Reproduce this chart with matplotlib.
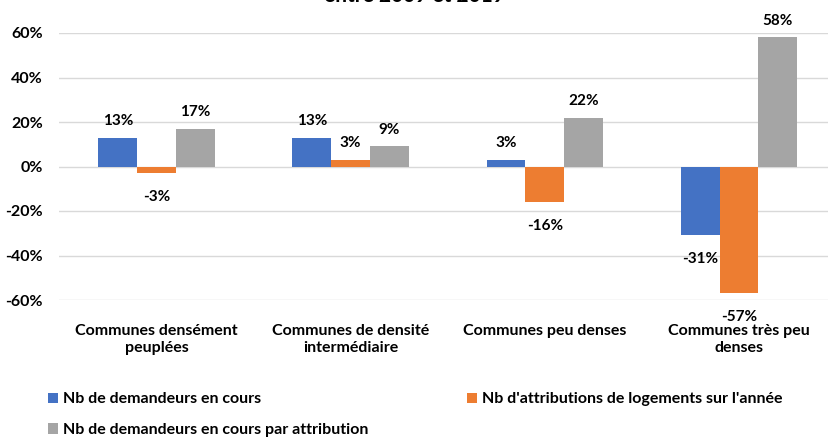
import matplotlib
matplotlib.use("Agg")
import matplotlib.pyplot as plt
import numpy as np

plt.rcParams['font.family'] = ['Lato', 'DejaVu Sans']
plt.rcParams['font.weight'] = 'bold'

categories = ["Communes densément\npeuplées", "Communes de densité\nintermédiaire",
              "Communes peu denses", "Communes très peu\ndenses"]
series_names = ["Nb de demandeurs en cours",
                "Nb d'attributions de logements sur l'année",
                "Nb de demandeurs en cours par attribution"]
demandeurs = [13, 13, 3, -31]
attributions = [-3, 3, -16, -57]
par_attribution = [17, 9, 22, 58]
colors = ["#4472C4", "#ED7D31", "#A5A5A5"]

W, H = 829, 437
fig = plt.figure(figsize=(W / 100, H / 100), dpi=100)
ax = fig.add_axes([59.5 / W, (H - 300) / H, 776.5 / W, 267 / H])

x = np.arange(len(categories))
width = 0.2
bars = []
for i, (vals, name, col) in enumerate(zip([demandeurs, attributions, par_attribution],
                                           series_names, colors)):
    pos = x + (i - 1) * width
    bars.append(ax.bar(pos, vals, width, color=col, label=name, zorder=3))
    for p, v in zip(pos, vals):
        ax.annotate(f"{v}%", (p, v), xytext=(0, 7 if v >= 0 else -12),
                    textcoords="offset points", ha="center",
                    va="bottom" if v >= 0 else "top", fontsize=11, fontweight="bold")

ax.set_xlim(-0.5, 3.5)
ax.set_ylim(-60, 60)
ax.set_yticks(range(-60, 61, 20))
ax.set_yticklabels([f"{t}%" for t in range(-60, 61, 20)], fontsize=11.5, fontweight="bold")
ax.set_xticks(x)
ax.set_xticklabels(categories, fontsize=11.5, fontweight="bold", linespacing=1.35)
ax.tick_params(axis="both", length=0)
ax.tick_params(axis="x", pad=17)
ax.tick_params(axis="y", pad=12)
ax.grid(axis="y", color="#D9D9D9", linewidth=1, zorder=0)
for s in ax.spines.values():
    s.set_visible(False)

# title is cut off at the top in the original
fig.text(0.5, 1 - 1.5 / H, "entre 2009 et 2019", ha="center", va="baseline",
         fontsize=15, fontweight="bold")

# order so that rows read blue, orange / gray
handles = [bars[0], bars[2], bars[1]]
labels = [series_names[0], series_names[2], series_names[1]]
fig.legend(handles, labels, loc="upper left", bbox_to_anchor=(34 / W, 1 - 378 / H), ncol=2,
           frameon=False, fontsize=11.5, handlelength=0.6, handleheight=0.6,
           handletextpad=0.3, columnspacing=6.2, labelspacing=1.05)

fig.savefig("out.png", dpi=100)
